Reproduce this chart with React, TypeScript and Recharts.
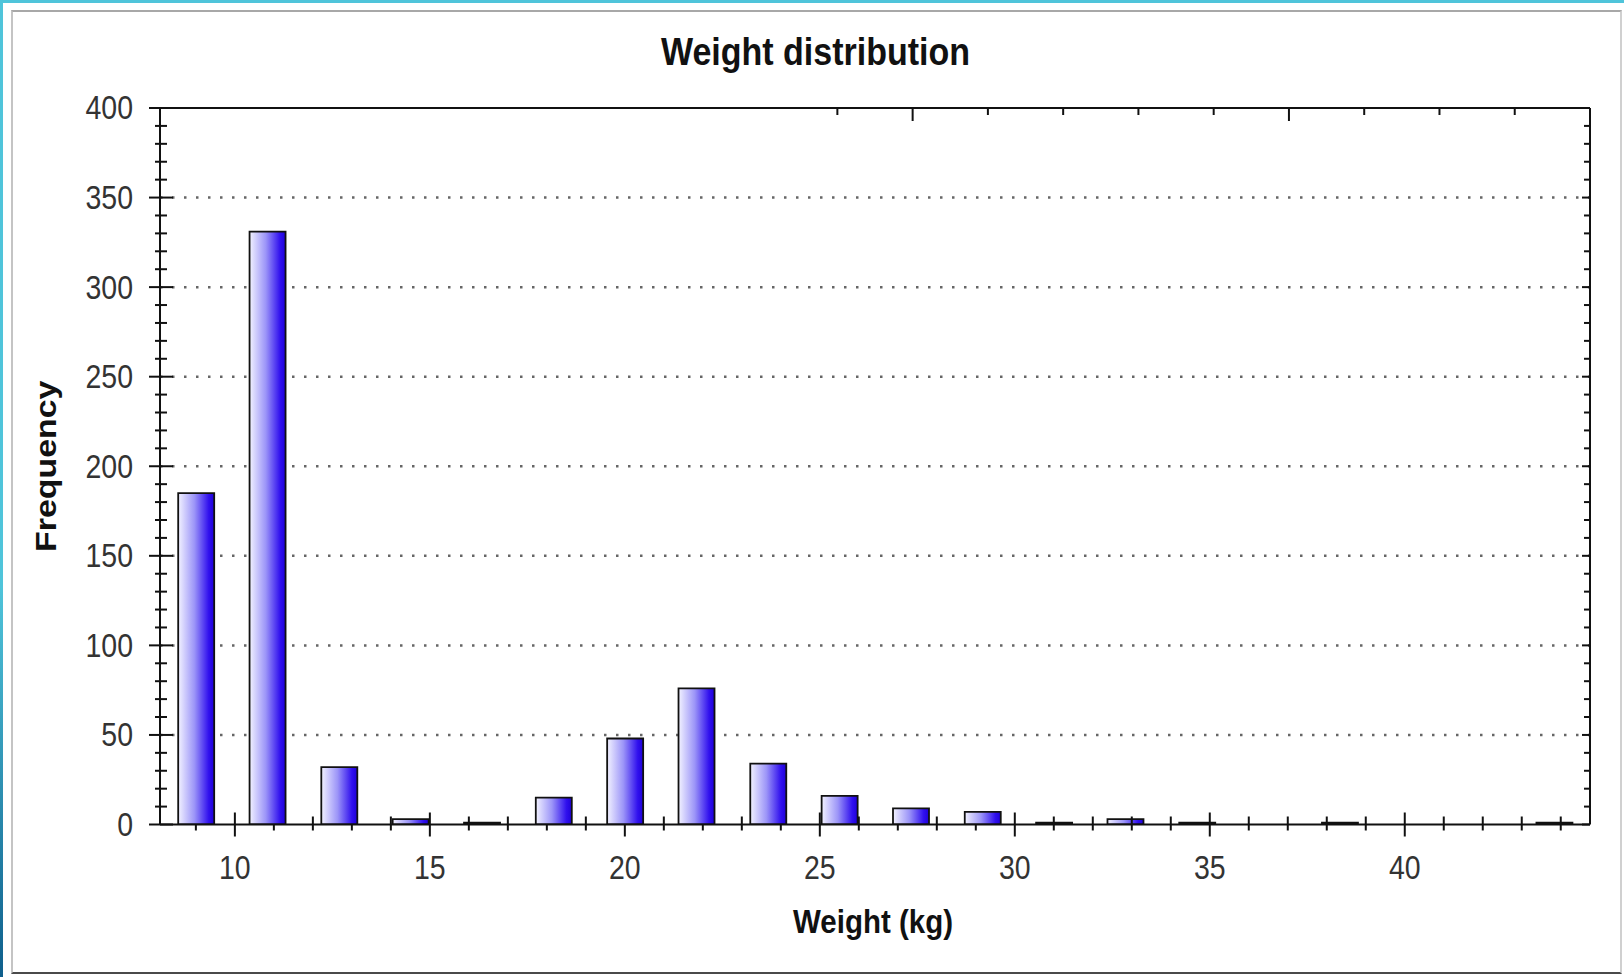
import React from 'react';
import { BarChart, Bar, XAxis, YAxis, CartesianGrid } from 'recharts';

// Histogram of weights
const binCenters = [9.0, 10.83, 12.67, 14.5, 16.33, 18.17, 20.0, 21.83, 23.67, 25.5, 27.33, 29.17, 31.0, 32.83, 34.67, 36.5, 38.33, 40.17, 42.0, 43.83];
const frequencies = [185, 331, 32, 3, 1, 15, 48, 76, 34, 16, 9, 7, 1, 3, 1, 0, 1, 0, 0, 1];

const xTicks = Array.from({ length: 36 }, (_, i) => 9 + i); // every kg, labels on multiples of 5
const yTicks = Array.from({ length: 41 }, (_, i) => i * 10); // every 10, labels on multiples of 50
const gridValues = [50, 100, 150, 200, 250, 300, 350];

const X_DOMAIN: [number, number] = [8.08, 44.75];
const Y_DOMAIN: [number, number] = [0, 400];

const data = binCenters.map((weight, i) => ({ weight, count: frequencies[i] }));

const FONT = '"Liberation Sans", Arial, Helvetica, sans-serif';
const STRETCH = 'scale(1,1.15)';
const AXIS = '#111';

// ticks that sit under a drawn bar only show their lower half (bar covers the rest)
const underBar = (v: number) =>
  binCenters.some((c, i) => frequencies[i] > 3 && Math.abs(c - v) < 0.47);

// =============================================================================
// Tick renderers (tickSize/tickMargin are 0, so x/y sit on the axis line)
// =============================================================================

const BottomTick = ({ x, y, payload }: any) => {
  const major = payload.value % 5 === 0;
  const up = underBar(payload.value) ? 0 : major ? 12 : 8;
  return (
    <g>
      <line x1={x} x2={x} y1={y - up} y2={y + (major ? 12 : 6)} stroke={AXIS} strokeWidth={2} />
      {major && (
        <text transform={`translate(${x},${y + 43}) ${STRETCH}`} textAnchor="middle" dy="0.35em"
          fontFamily={FONT} fontSize={28.5} fill="#333">
          {payload.value}
        </text>
      )}
    </g>
  );
};

const TopTick = ({ x, y, payload }: any) => {
  const major = payload.value % 5 === 0;
  return <line x1={x} x2={x} y1={y} y2={y + (major ? 13 : 7)} stroke={AXIS} strokeWidth={2} />;
};

const LeftTick = ({ x, y, payload }: any) => {
  const major = payload.value % 50 === 0;
  return (
    <g>
      <line x1={x - (major ? 11 : 5)} x2={x + (major ? 13 : 7)} y1={y} y2={y} stroke={AXIS} strokeWidth={2} />
      {major && (
        <text transform={`translate(${x - 27},${y}) ${STRETCH}`} textAnchor="end" dy="0.35em"
          fontFamily={FONT} fontSize={28.5} fill="#333">
          {payload.value}
        </text>
      )}
    </g>
  );
};

const RightTick = ({ x, y, payload }: any) => {
  const major = payload.value % 50 === 0;
  return <line x1={x - (major ? 8 : 6)} x2={x} y1={y} y2={y} stroke={AXIS} strokeWidth={2} />;
};

// =============================================================================
// Axis titles
// =============================================================================

const XTitle = ({ viewBox }: any) => {
  if (!viewBox) return null;
  const cx = viewBox.x + viewBox.width / 2;
  return (
    <text transform={`translate(${cx - 2},${viewBox.y + 97}) ${STRETCH}`} textAnchor="middle" dy="0.35em"
      fontFamily={FONT} fontWeight="bold" fontSize={29.5} fill="#111">
      Weight (kg)
    </text>
  );
};

const YTitle = ({ viewBox }: any) => {
  if (!viewBox) return null;
  const cy = viewBox.y + viewBox.height / 2;
  return (
    <text transform={`translate(${viewBox.x + 46},${cy}) rotate(-90) scale(1.15,1)`} textAnchor="middle" dy="0.35em"
      fontFamily={FONT} fontWeight="bold" fontSize={29.5} fill="#111">
      Frequency
    </text>
  );
};

// =============================================================================
// Component
// =============================================================================

export default function App() {
  return (
    <div style={{ position: 'absolute', left: 0, top: 0, width: 1624, height: 977, background: '#fff', overflow: 'hidden' }}>
      {/* slide frame */}
      <div style={{ position: 'absolute', left: 0, top: 0, width: 1624, height: 3, background: '#4fc4da' }} />
      <div style={{ position: 'absolute', left: 0, top: 0, width: 3, height: 977, background: 'linear-gradient(#4fc4da, #4fc4da 60%, #0f5f8c)' }} />
      <div style={{
        position: 'absolute', left: 11, top: 10, width: 1607, height: 960,
        borderTop: '2px solid #a8a8a8', borderLeft: '2px solid #c4c4c4',
        borderRight: '2px solid #d0d0d0', borderBottom: '2px solid #4a4a4a',
      }} />

      <div style={{
        position: 'absolute', left: 11, top: 32, width: 1609, textAlign: 'center',
        fontFamily: FONT, fontWeight: 'bold', fontSize: 34, lineHeight: '34px', color: '#111',
        transform: 'scaleY(1.15)', transformOrigin: 'top',
      }}>
        Weight distribution
      </div>

      <BarChart width={1624} height={977} data={data}
        margin={{ top: 0, right: 0, bottom: 0, left: 0 }}
        style={{ position: 'absolute', left: 0, top: 0 }}>
        <defs>
          <linearGradient id="barFill" x1="0" y1="0" x2="1" y2="0">
            <stop offset="0%" stopColor="#f2f2ff" />
            <stop offset="45%" stopColor="#9c95f8" />
            <stop offset="85%" stopColor="#3010ee" />
            <stop offset="100%" stopColor="#1e00d8" />
          </linearGradient>
        </defs>
        <CartesianGrid vertical={false} horizontalValues={gridValues} syncWithTicks={false}
          xAxisId="bottom" yAxisId="left"
          stroke="#666" strokeWidth={2.5} strokeDasharray="2.5 9.5" />
        <XAxis xAxisId="bottom" dataKey="weight" type="number" orientation="bottom"
          domain={X_DOMAIN} allowDataOverflow ticks={xTicks} interval={0} height={152.5}
          tickSize={0} tickMargin={0} tickLine={false} tick={BottomTick}
          axisLine={{ stroke: AXIS, strokeWidth: 2 }} label={<XTitle />} />
        <XAxis xAxisId="top" type="number" orientation="top"
          domain={X_DOMAIN} allowDataOverflow ticks={xTicks} interval={0} height={108}
          tickSize={0} tickMargin={0} tickLine={false} tick={TopTick}
          axisLine={{ stroke: AXIS, strokeWidth: 2 }} />
        <YAxis yAxisId="left" type="number" orientation="left"
          domain={Y_DOMAIN} allowDataOverflow ticks={yTicks} interval={0} width={160}
          tickSize={0} tickMargin={0} tickLine={false} tick={LeftTick}
          axisLine={{ stroke: AXIS, strokeWidth: 2 }} label={<YTitle />} />
        <YAxis yAxisId="right" type="number" orientation="right"
          domain={Y_DOMAIN} allowDataOverflow ticks={yTicks} interval={0} width={34}
          tickSize={0} tickMargin={0} tickLine={false} tick={RightTick}
          axisLine={{ stroke: AXIS, strokeWidth: 2 }} />
        <Bar dataKey="count" xAxisId="bottom" yAxisId="left" barSize={36}
          fill="url(#barFill)" stroke="#111" strokeWidth={1.8} isAnimationActive={false} />
      </BarChart>
    </div>
  );
}
